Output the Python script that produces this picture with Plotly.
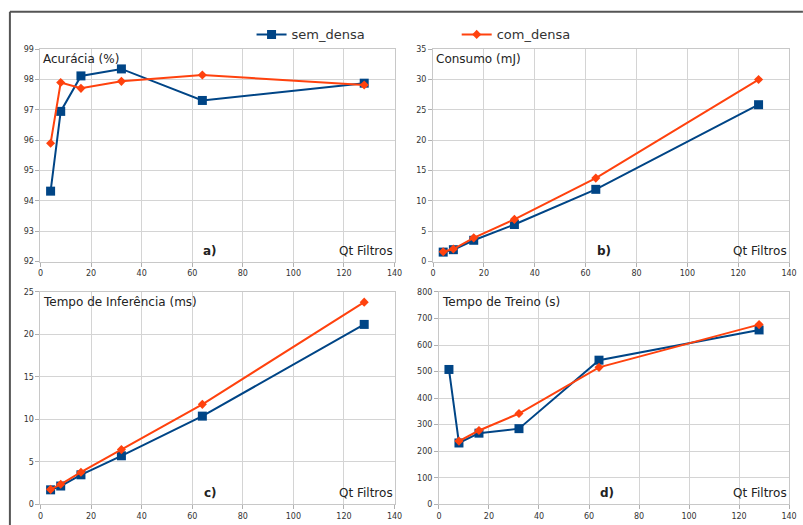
import plotly.graph_objects as go

W, H = 803, 525

# Number of filters tested
qt_filtros = [4, 8, 16, 32, 64, 128]

# a) Accuracy (%)
acc_sem = [94.32, 96.95, 98.12, 98.35, 97.31, 97.88]
acc_com = [95.90, 97.90, 97.71, 97.94, 98.15, 97.82]

# b) Energy consumption (mJ)
cons_sem = [1.55, 1.95, 3.5, 6.1, 11.9, 25.85]
cons_com = [1.6, 2.05, 3.9, 6.95, 13.75, 30.0]

# c) Inference time (ms)
inf_sem = [1.7, 2.15, 3.47, 5.71, 10.38, 21.18]
inf_com = [1.75, 2.35, 3.78, 6.44, 11.77, 23.8]

# d) Training time (s)
trn_sem = [508, 231, 268, 285, 543, 657]
trn_com = [None, 238, 278, 342, 516, 677]

series_names = ["sem_densa", "com_densa"]
panel_titles = ["Acurácia (%)", "Consumo (mJ)", "Tempo de Inferência (ms)", "Tempo de Treino (s)"]
panel_tags = ["a)", "b)", "c)", "d)"]
x_label = "Qt Filtros"

BLUE = "#004586"
ORANGE = "#ff420e"
FONT = "DejaVu Sans"


def px(x):
    return x / W


def py(y):
    return 1 - y / H


# plot-area boxes in pixels: (left, right, top, bottom)
boxes = [
    (38, 397, 46, 262),
    (436, 797, 46, 262),
    (38, 397, 293, 509),
    (442, 797, 293, 509),
]
y_ranges = [(92, 99, 1), (0, 35, 5), (0, 25, 5), (0, 800, 100)]
data = [(acc_sem, acc_com), (cons_sem, cons_com), (inf_sem, inf_com), (trn_sem, trn_com)]

fig = go.Figure()

for i, ((ys, yc), box, yr) in enumerate(zip(data, boxes, y_ranges)):
    n = "" if i == 0 else str(i + 1)
    xa, ya = "x" + n, "y" + n
    fig.add_trace(go.Scatter(
        x=qt_filtros, y=ys, name=series_names[0], xaxis=xa, yaxis=ya,
        mode="lines+markers", line=dict(color=BLUE, width=2),
        marker=dict(symbol="square", size=9, color=BLUE),
        showlegend=(i == 0), legend="legend", cliponaxis=False,
    ))
    fig.add_trace(go.Scatter(
        x=qt_filtros, y=yc, name=series_names[1], xaxis=xa, yaxis=ya,
        mode="lines+markers", line=dict(color=ORANGE, width=2),
        marker=dict(symbol="diamond", size=7, color=ORANGE),
        showlegend=(i == 0), legend="legend2", cliponaxis=False,
    ))
    l, r, t, b = box
    axis_common = dict(
        showline=True, mirror=True, linecolor="#c8c8c8", linewidth=1,
        showgrid=True, gridcolor="#d4d4d4", gridwidth=1,
        ticks="outside", ticklen=4, tickcolor="#b0b0b0",
        tickfont=dict(family=FONT, size=8, color="#333333"),
        zeroline=False,
    )
    fig.update_layout(**{
        "xaxis" + n: dict(domain=[px(l), px(r)], range=[0, 140], dtick=20, tick0=0,
                          anchor=ya, **axis_common),
        "yaxis" + n: dict(domain=[py(b), py(t)], range=[yr[0], yr[1]], dtick=yr[2], tick0=yr[0],
                          anchor=xa, **axis_common),
    })
    fig.add_annotation(x=px(l + 1), y=py(t + 10), xref="paper", yref="paper",
                       text=panel_titles[i], showarrow=False, xanchor="left", yanchor="middle",
                       font=dict(family=FONT, size=12, color="#222222"))
    fig.add_annotation(x=px(l + (r - l) * 0.48), y=py(b - 11), xref="paper", yref="paper",
                       text="<b>" + panel_tags[i] + "</b>", showarrow=False,
                       xanchor="center", yanchor="middle",
                       font=dict(family=FONT, size=12, color="#222222"))
    fig.add_annotation(x=px(r), y=py(b - 11), xref="paper", yref="paper",
                       text=x_label, showarrow=False, xanchor="right", yanchor="middle",
                       font=dict(family=FONT, size=12, color="#222222"))

# outer frame (left and top edges)
fig.add_shape(type="line", xref="paper", yref="paper", x0=px(7), x1=1.01, y0=py(8), y1=py(8),
              line=dict(color="#555555", width=2))
fig.add_shape(type="line", xref="paper", yref="paper", x0=px(7), x1=px(7), y0=py(8), y1=-0.01,
              line=dict(color="#555555", width=2))

legend_common = dict(orientation="h", bgcolor="rgba(0,0,0,0)", borderwidth=0,
                     font=dict(family=FONT, size=13, color="#333333"),
                     xanchor="left", yanchor="middle", itemwidth=30)
fig.update_layout(
    width=W, height=H,
    margin=dict(l=0, r=0, t=0, b=0),
    paper_bgcolor="white", plot_bgcolor="white",
    legend=dict(x=px(252), y=py(31), **legend_common),
    legend2=dict(x=px(460), y=py(31), **legend_common),
)

fig.write_html("out.html")
